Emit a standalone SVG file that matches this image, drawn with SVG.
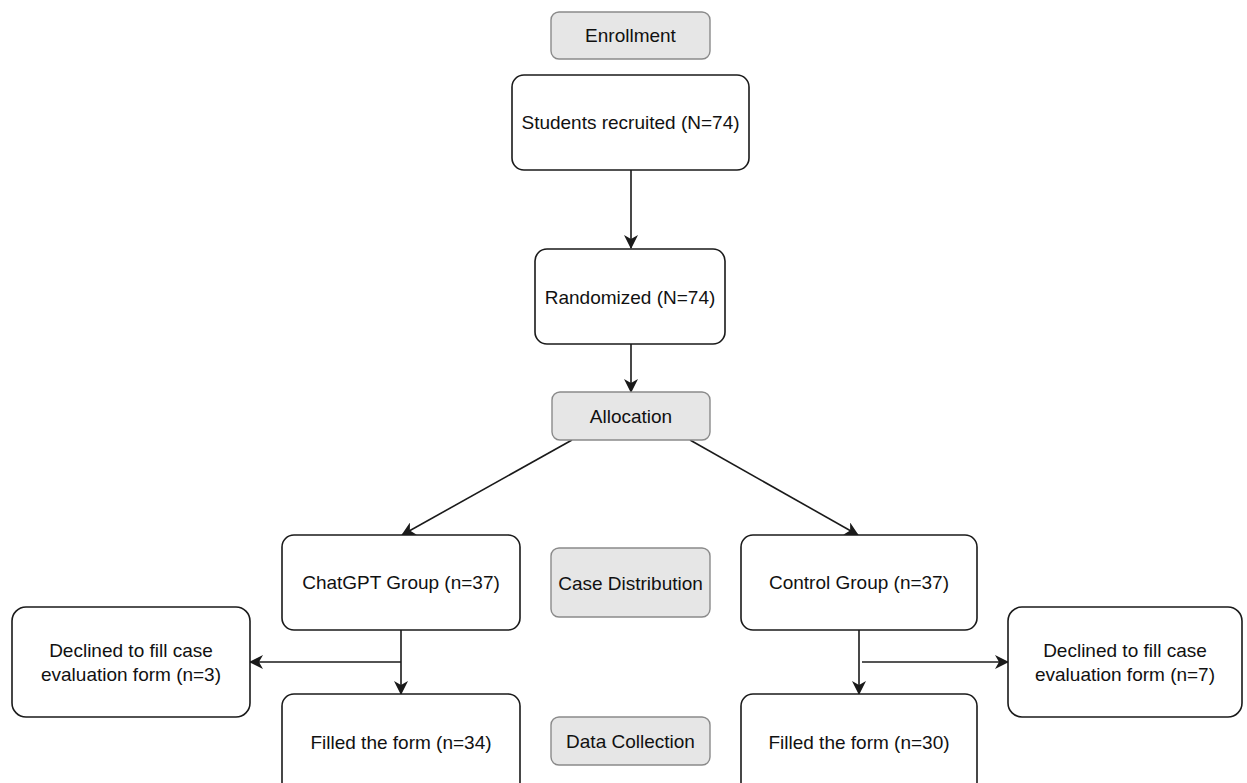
<svg xmlns="http://www.w3.org/2000/svg" width="1247" height="783" viewBox="0 0 1247 783">
<style>
.box{fill:#ffffff;stroke:#1a1a1a;stroke-width:1.6}
.hdr{fill:#e6e6e6;stroke:#8a8a8a;stroke-width:1.4}
.t{font-family:"Liberation Sans",Arial,sans-serif;font-size:19px;fill:#111111;text-anchor:middle}
.c{fill:none;stroke:#1a1a1a;stroke-width:1.6}
.g{fill:none;stroke:#555;stroke-width:2.2}
</style>
<defs>
<marker id="ah" viewBox="0 0 14 14" refX="13" refY="7" markerWidth="14" markerHeight="14" markerUnits="userSpaceOnUse" orient="auto">
<path d="M0,0 L14,7 L0,14 L4,7 z" fill="#1a1a1a"/>
</marker>
</defs>
<g id="connectors">
<line class="c" x1="631" y1="170" x2="631" y2="248" marker-end="url(#ah)"/>
<line class="c" x1="631" y1="344" x2="631" y2="392" marker-end="url(#ah)"/>
<line class="c" x1="572" y1="440" x2="402" y2="535" marker-end="url(#ah)"/>
<line class="c" x1="690" y1="440" x2="858" y2="535" marker-end="url(#ah)"/>
<line class="c" x1="401" y1="630" x2="401" y2="694" marker-end="url(#ah)"/>
<line class="c" x1="401" y1="662" x2="250" y2="662" marker-end="url(#ah)"/>
<line class="c" x1="859" y1="630" x2="859" y2="694" marker-end="url(#ah)"/>
<line class="g" x1="862" y1="662" x2="1008" y2="662" marker-end="url(#ah)"/>
</g>
<g id="enrollment">
<rect class="hdr" x="551" y="12" width="159" height="47" rx="8"/>
<text class="t" x="630.5" y="42">Enrollment</text>
</g>
<g id="recruited">
<rect class="box" x="512" y="75" width="237" height="95" rx="12"/>
<text class="t" x="630.5" y="129">Students recruited (N=74)</text>
</g>
<g id="randomized">
<rect class="box" x="535" y="249" width="190" height="95" rx="12"/>
<text class="t" x="630" y="304">Randomized (N=74)</text>
</g>
<g id="allocation">
<rect class="hdr" x="552" y="392" width="158" height="48" rx="8"/>
<text class="t" x="631" y="423">Allocation</text>
</g>
<g id="chatgpt">
<rect class="box" x="282" y="535" width="238" height="95" rx="12"/>
<text class="t" x="401" y="589">ChatGPT Group (n=37)</text>
</g>
<g id="casedist">
<rect class="hdr" x="551" y="548" width="159" height="69" rx="8"/>
<text class="t" x="630.5" y="590">Case Distribution</text>
</g>
<g id="control">
<rect class="box" x="741" y="535" width="236" height="95" rx="12"/>
<text class="t" x="859" y="589">Control Group (n=37)</text>
</g>
<g id="declined-left">
<rect class="box" x="12" y="607" width="238" height="110" rx="14"/>
<text class="t" x="131" y="657">Declined to fill case</text>
<text class="t" x="131" y="681">evaluation form (n=3)</text>
</g>
<g id="declined-right">
<rect class="box" x="1008" y="607" width="234" height="110" rx="14"/>
<text class="t" x="1125" y="657">Declined to fill case</text>
<text class="t" x="1125" y="681">evaluation form (n=7)</text>
</g>
<g id="filled-left">
<rect class="box" x="282" y="694" width="238" height="100" rx="12"/>
<text class="t" x="401" y="749">Filled the form (n=34)</text>
</g>
<g id="datacollection">
<rect class="hdr" x="551" y="717" width="159" height="48" rx="8"/>
<text class="t" x="630.5" y="748">Data Collection</text>
</g>
<g id="filled-right">
<rect class="box" x="741" y="694" width="236" height="100" rx="12"/>
<text class="t" x="859" y="749">Filled the form (n=30)</text>
</g>
</svg>
